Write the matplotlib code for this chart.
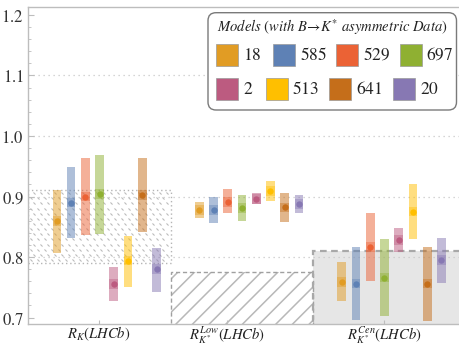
import numpy as np
import matplotlib.pyplot as plt
from matplotlib.patches import Rectangle, FancyBboxPatch
from matplotlib.path import Path
from matplotlib.ticker import MultipleLocator

plt.rcParams['mathtext.fontset'] = 'stix'
plt.rcParams['hatch.linewidth'] = 1.1

# models and their colours
models = ['18', '585', '529', '697', '2', '513', '641', '20']
colors = ['#E19C24', '#5E81B5', '#EB6235', '#8FB032',
          '#BC5B80', '#FFBF00', '#C56E1A', '#8778B3']

observables = [r'$R_K(LHCb)$', r'$R^{Low}_{K^{*}}(LHCb)$', r'$R^{Cen}_{K^{*}}(LHCb)$']

# predictions: central value, lower and upper edge, one entry per model
rk_mid = [0.860, 0.890, 0.900, 0.904, 0.755, 0.794, 0.902, 0.780]
rk_lo = [0.807, 0.832, 0.837, 0.838, 0.727, 0.751, 0.841, 0.743]
rk_hi = [0.911, 0.948, 0.963, 0.968, 0.784, 0.835, 0.964, 0.815]

low_mid = [0.878, 0.878, 0.891, 0.881, 0.896, 0.909, 0.882, 0.888]
low_lo = [0.864, 0.857, 0.872, 0.860, 0.888, 0.892, 0.858, 0.873]
low_hi = [0.891, 0.900, 0.912, 0.903, 0.906, 0.925, 0.906, 0.902]

cen_mid = [0.759, 0.756, 0.817, 0.766, 0.828, 0.875, 0.756, 0.795]
cen_lo = [0.728, 0.696, 0.761, 0.702, 0.808, 0.830, 0.695, 0.757]
cen_hi = [0.791, 0.816, 0.873, 0.829, 0.848, 0.921, 0.816, 0.831]

# measured ranges (LHCb)
rk_exp = [0.79, 0.91]
low_exp = [0.60, 0.775]
cen_exp = [0.60, 0.81]

inner_half = 0.008   # darker band around the central value

mids = [rk_mid, low_mid, cen_mid]
los = [rk_lo, low_lo, cen_lo]
his = [rk_hi, low_hi, cen_hi]

fig = plt.figure(figsize=(4.59, 3.46), dpi=100)
ax = fig.add_axes([28 / 459, 22 / 346, 431 / 459, 317 / 346])
ax.set_xlim(0.448, 3.473)
ax.set_ylim(0.6893, 1.2132)

# experimental bands
x0, x1, x2, x3 = 0.448, 1.452, 2.448, 3.6

# R_K : dotted box filled with small slanted dashes
ax.add_patch(Rectangle((x0, rk_exp[0]), x1 - x0, rk_exp[1] - rk_exp[0],
                       fill=False, ec='#b5b5b5', lw=1.0, ls=(0, (1, 2)), zorder=1))
seg = Path([(-1, 1), (1, -1)], [Path.MOVETO, Path.LINETO])
ys = np.arange(rk_exp[0] + 0.005, rk_exp[1] - 0.003, 0.0085)
px, py = [], []
for k, yy in enumerate(ys):
    xs = np.arange(x0 + 0.02 + (k % 2) * 0.024, x1 - 0.01, 0.049)
    px.extend(xs)
    py.extend([yy] * len(xs))
ax.plot(px, py, ls='none', marker=seg, ms=1.5, mec='#bcbcbc', mew=0.8, zorder=1)

# R_K* low : diagonal hatch with dashed border
ax.add_patch(Rectangle((x1, low_exp[0]), x2 - x1, low_exp[1] - low_exp[0],
                       fill=False, ec='#b8b8b8', lw=0, hatch='//', zorder=1))
ax.add_patch(Rectangle((x1, low_exp[0]), x2 - x1, low_exp[1] - low_exp[0],
                       fill=False, ec='#a0a0a0', lw=1.0, ls=(0, (3, 2)), zorder=1))

# R_K* central : grey box
ax.add_patch(Rectangle((x2, cen_exp[0]), x3 - x2, cen_exp[1] - cen_exp[0],
                       fc='#e6e6e6', ec='none', zorder=0.5))
ax.add_patch(Rectangle((x2, cen_exp[0]), x3 - x2, cen_exp[1] - cen_exp[0],
                       fill=False, ec='#a8a8a8', lw=1.6, ls=(0, (3, 2)), zorder=1.2))

# dotted grid lines
for g in [0.8, 0.9, 1.0, 1.1]:
    ax.axhline(g, color='#c8c8c8', lw=0.9, ls=(0, (1, 3)), zorder=1.1)

# predictions
bw = 0.06
for gi in range(3):
    for i in range(len(models)):
        xc = gi + 1 + (i - 3.5) * 0.1
        m, lo, hi = mids[gi][i], los[gi][i], his[gi][i]
        ax.bar(xc, hi - lo, bottom=lo, width=bw, color=colors[i], alpha=0.5,
               lw=0, zorder=2)
        ax.bar(xc, 2 * inner_half, bottom=m - inner_half, width=bw, color=colors[i],
               alpha=0.4, lw=0, zorder=2.1)
        ax.plot(xc, m, 'o', color=colors[i], ms=4.6, mew=0, zorder=3)

# axes styling
ax.spines['right'].set_visible(False)
for s in ['left', 'bottom', 'top']:
    ax.spines[s].set_color('#bdbdbd')
    ax.spines[s].set_linewidth(1.0)

ax.yaxis.set_major_locator(MultipleLocator(0.1))
ax.yaxis.set_minor_locator(MultipleLocator(0.02))
ax.tick_params(axis='y', which='major', direction='in', length=4, color='#bdbdbd',
               labelsize=12, labelcolor='#333333', pad=3)
ax.tick_params(axis='y', which='minor', direction='in', length=2.5, color='#bdbdbd')
yt = [0.7, 0.8, 0.9, 1.0, 1.1, 1.2]
ax.set_yticks(yt)
ax.set_yticklabels([r'$\mathit{%.1f}$' % v for v in yt])

ax.set_xticks([0.947, 1.845, 2.946])
ax.set_xticklabels(observables, fontsize=10.5, color='#222222')
ax.tick_params(axis='x', direction='in', length=3, color='#bdbdbd', pad=0.5)

# legend drawn in pixel coordinates
lg = fig.add_axes([0, 0, 1, 1], zorder=10)
lg.set_xlim(0, 459)
lg.set_ylim(346, 0)
lg.axis('off')
lg.add_patch(FancyBboxPatch((208, 12.7), 248.5, 97.3,
                            boxstyle='round,pad=0,rounding_size=8',
                            fc='white', ec='#7a7a7a', lw=1.0))
lg.text(332, 27.5, r'$Models\ (with\ B\!\rightarrow\! K^{*}\ asymmetric\ Data)$',
        ha='center', va='center', fontsize=10.5, color='#222222')
for row in range(2):
    sx = 216
    yc = 55 if row == 0 else 89
    for col in range(4):
        i = row * 4 + col
        lg.add_patch(Rectangle((sx, yc - 11.2), 22.4, 22.4, fc=colors[i],
                               ec='#9a9a9a', lw=0.5))
        tx = sx + 27
        lg.text(tx, yc, r'$\mathit{%s}$' % models[i], ha='left', va='center',
                fontsize=12.5, color='#222222')
        sx = tx + 7 * len(models[i]) + 15.5

fig.savefig('out.png', dpi=100)
